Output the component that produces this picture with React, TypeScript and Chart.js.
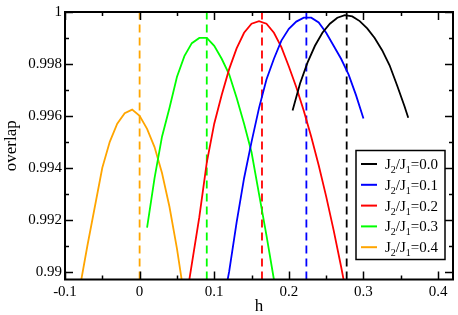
import { useEffect, useRef } from 'react';
import { Chart, registerables } from 'chart.js';

Chart.register(...registerables);

const ratioLabels = ['0.0', '0.1', '0.2', '0.3', '0.4'];
const seriesColors = ['#000000', '#0000ff', '#ff0000', '#00ff00', '#ffa500'];

const h00 = [0.205, 0.215, 0.225, 0.235, 0.245, 0.255, 0.265, 0.275, 0.285, 0.295, 0.305, 0.315, 0.325, 0.335, 0.345, 0.355, 0.36];
const v00 = [0.99621, 0.99725, 0.99805, 0.9987, 0.9992, 0.99955, 0.99978, 0.99988, 0.99983, 0.99965, 0.99937, 0.999, 0.99853, 0.99795, 0.99718, 0.99637, 0.99593];

const h01 = [0.11, 0.12, 0.13, 0.14, 0.15, 0.16, 0.17, 0.18, 0.19, 0.2, 0.21, 0.22, 0.23, 0.24, 0.25, 0.26, 0.27, 0.28, 0.29, 0.3];
const v01 = [0.9885, 0.99, 0.9919, 0.9936, 0.995, 0.9963, 0.9974, 0.9982, 0.9989, 0.99935, 0.99963, 0.99978, 0.99978, 0.9996, 0.9992, 0.9987, 0.9982, 0.9976, 0.9968, 0.9959];

const h02 = [0.06, 0.07, 0.08, 0.09, 0.1, 0.11, 0.12, 0.13, 0.14, 0.15, 0.16, 0.17, 0.18, 0.19, 0.2, 0.21, 0.22, 0.23, 0.24, 0.25, 0.26, 0.27, 0.28];
const v02 = [0.9885, 0.9903, 0.9921, 0.9942, 0.9957, 0.9968, 0.9978, 0.9986, 0.9992, 0.99955, 0.99965, 0.99955, 0.9992, 0.99865, 0.9979, 0.9971, 0.9962, 0.9952, 0.9941, 0.9929, 0.9916, 0.9902, 0.9887];

const h03 = [0.01, 0.02, 0.03, 0.04, 0.05, 0.06, 0.07, 0.08, 0.09, 0.1, 0.11, 0.12, 0.13, 0.14, 0.15, 0.16, 0.17, 0.18];
const v03 = [0.9917, 0.9936, 0.9952, 0.9963, 0.9975, 0.9983, 0.9988, 0.999, 0.999, 0.9987, 0.9982, 0.9976, 0.9967, 0.9957, 0.9946, 0.993, 0.9914, 0.9897];

const h04 = [-0.08, -0.07, -0.06, -0.05, -0.04, -0.03, -0.02, -0.01, 0, 0.01, 0.02, 0.03, 0.04, 0.05, 0.06];
const v04 = [0.9894, 0.991, 0.9925, 0.994, 0.995, 0.9957, 0.9961, 0.99624, 0.996, 0.9955, 0.9948, 0.9938, 0.9925, 0.9909, 0.989];

const peakH = [0.2775, 0.2235, 0.164, 0.09, 0.0];

const xTickValues = [-0.1, 0, 0.1, 0.2, 0.3, 0.4];
const yTickValues = [0.99, 0.992, 0.994, 0.996, 0.998, 1];

const X_MIN = -0.1;
const X_MAX = 0.42;
const Y_MIN = 0.9897;
const Y_MAX = 1.0;

const FONT = "'Liberation Serif', 'DejaVu Serif', 'Times New Roman', serif";

const seriesH = [h00, h01, h02, h03, h04];
const seriesV = [v00, v01, v02, v03, v04];

const framePlugin = {
  id: 'frameTicksLegend',
  afterDatasetsDraw(chart: any) {
    const { ctx, chartArea: a, scales } = chart;
    const x = scales.x;
    const y = scales.y;
    ctx.save();
    ctx.strokeStyle = '#000';
    ctx.lineWidth = 1.5;
    const seg = (x1: number, y1: number, x2: number, y2: number) => {
      ctx.beginPath();
      ctx.moveTo(x1, y1);
      ctx.lineTo(x2, y2);
      ctx.stroke();
    };
    // x ticks (inward, mirrored)
    for (let i = -2; i <= 9; i++) {
      const v = i * 0.05;
      if (v < X_MIN - 1e-9 || v > X_MAX + 1e-9) continue;
      const px = Math.round(x.getPixelForValue(v)) + 0.5;
      const len = i % 2 === 0 ? 8 : 4;
      seg(px, a.bottom, px, a.bottom - len);
      seg(px, a.top, px, a.top + len);
    }
    // y ticks
    for (let i = 0; i <= 10; i++) {
      const v = 0.99 + i * 0.001;
      if (v < Y_MIN - 1e-9 || v > Y_MAX + 1e-9) continue;
      const py = Math.round(y.getPixelForValue(v)) + 0.5;
      const len = i % 2 === 0 ? 8 : 4;
      seg(a.left, py, a.left + len, py);
      seg(a.right, py, a.right - len, py);
    }
    // frame
    ctx.lineWidth = 2;
    ctx.strokeRect(a.left, a.top, a.right - a.left, a.bottom - a.top);

    // legend
    const bw = 89;
    const bh = 109;
    const bx = a.right - 8 - bw;
    const by = a.bottom - 20 - bh;
    ctx.fillStyle = '#fff';
    ctx.fillRect(bx, by, bw, bh);
    ctx.lineWidth = 1.5;
    ctx.strokeStyle = '#000';
    ctx.strokeRect(bx, by, bw, bh);
    ratioLabels.forEach((lab, i) => {
      const cy = by + 13.5 + i * 20.8;
      ctx.strokeStyle = seriesColors[i];
      ctx.lineWidth = 2;
      seg(bx + 5, cy, bx + 21, cy);
      ctx.fillStyle = '#000';
      ctx.textBaseline = 'alphabetic';
      ctx.textAlign = 'left';
      let tx = bx + 29;
      const base = cy + 5;
      const big = `15px ${FONT}`;
      const small = `10px ${FONT}`;
      const parts: [string, boolean][] = [['J', false], ['2', true], ['/J', false], ['1', true], ['=' + lab, false]];
      parts.forEach(([t, sub]) => {
        ctx.font = sub ? small : big;
        ctx.fillText(t, tx, sub ? base + 4 : base);
        tx += ctx.measureText(t).width;
      });
    });
    ctx.restore();
  },
};

export default function App() {
  const ref = useRef<HTMLCanvasElement | null>(null);
  useEffect(() => {
    if (!ref.current) return;
    const curveSets = seriesH.map((hs, i) => ({
      label: 'J2/J1=' + ratioLabels[i],
      data: hs.map((h, j) => ({ x: h, y: seriesV[i][j] })),
      borderColor: seriesColors[i],
      backgroundColor: seriesColors[i],
      borderWidth: 1.8,
      pointRadius: 0,
      tension: 0,
      fill: false,
    }));
    const dashSets = peakH.map((p, i) => ({
      label: 'peak ' + ratioLabels[i],
      data: [
        { x: p, y: Y_MIN },
        { x: p, y: Y_MAX },
      ],
      borderColor: seriesColors[i],
      borderWidth: 1.8,
      borderDash: [8, 5],
      pointRadius: 0,
      fill: false,
    }));
    const chart = new Chart(ref.current, {
      type: 'line',
      data: { datasets: [...curveSets, ...dashSets] as any },
      options: {
        animation: false,
        responsive: false,
        devicePixelRatio: 1,
        layout: { padding: { top: 6, right: 5, left: 0, bottom: 0 } },
        plugins: { legend: { display: false }, tooltip: { enabled: false } },
        scales: {
          x: {
            type: 'linear',
            min: X_MIN,
            max: X_MAX,
            afterBuildTicks: (s: any) => {
              s.ticks = xTickValues.map((v) => ({ value: v }));
            },
            afterFit: (s: any) => {
              s.height = 35.5;
            },
            grid: { display: false, drawTicks: false },
            border: { display: false },
            ticks: {
              autoSkip: false,
              maxRotation: 0,
              padding: 4,
              color: '#000',
              font: { family: FONT, size: 15 },
              callback: (v: any) => String(Math.round(Number(v) * 10) / 10),
            },
            title: {
              display: true,
              text: 'h',
              color: '#000',
              font: { family: FONT, size: 17, lineHeight: 1 },
              padding: 0,
            },
          },
          y: {
            type: 'linear',
            min: Y_MIN,
            max: Y_MAX,
            afterBuildTicks: (s: any) => {
              s.ticks = yTickValues.map((v) => ({ value: v }));
            },
            afterFit: (s: any) => {
              s.width = 65;
            },
            grid: { display: false, drawTicks: false },
            border: { display: false },
            ticks: {
              autoSkip: false,
              padding: 3,
              color: '#000',
              font: { family: FONT, size: 15 },
              callback: (v: any) => String(Math.round(Number(v) * 1000) / 1000),
            },
            title: {
              display: true,
              text: 'overlap',
              color: '#000',
              font: { family: FONT, size: 17, lineHeight: 1 },
              padding: { top: 3.5, bottom: 0 },
            },
          },
        },
      },
      plugins: [framePlugin],
    });
    return () => chart.destroy();
  }, []);
  return (
    <div style={{ position: 'absolute', left: 0, top: 0, width: 458, height: 315 }}>
      <canvas ref={ref} width={458} height={315} style={{ width: 458, height: 315 }} />
    </div>
  );
}
